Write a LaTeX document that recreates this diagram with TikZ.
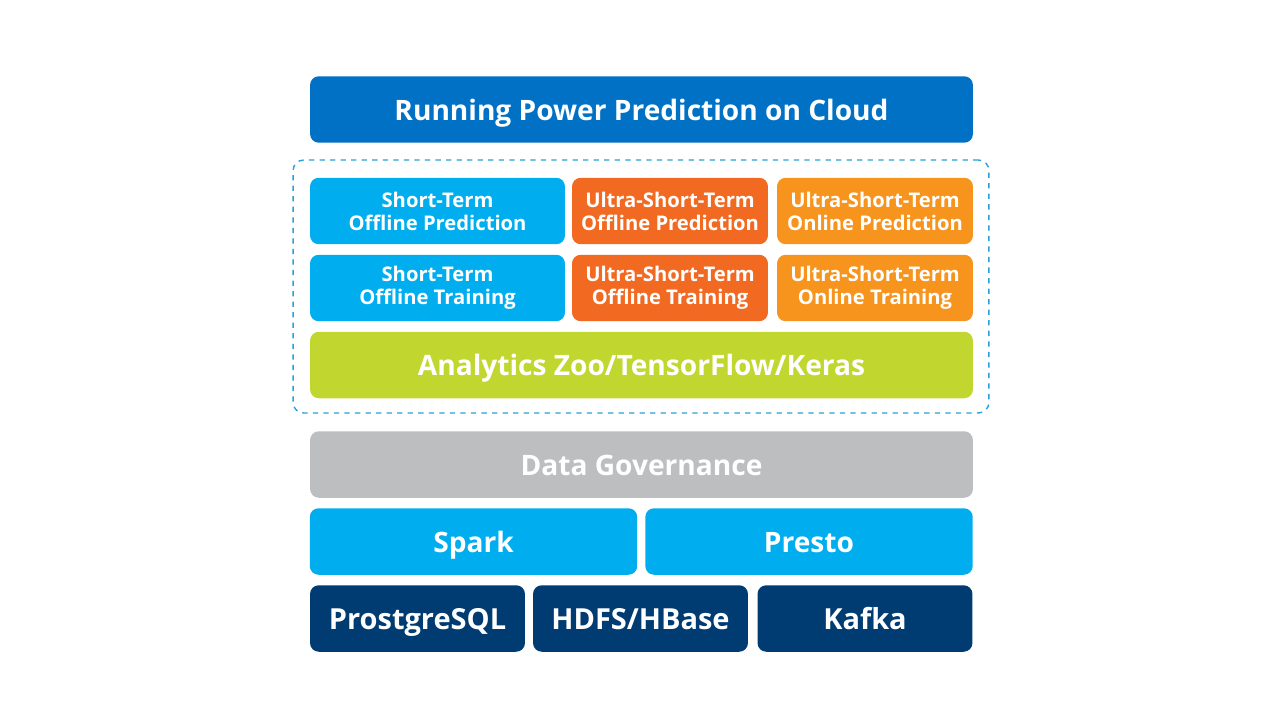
\documentclass[tikz,border=0pt]{standalone}
\usepackage{fontspec}
\setmainfont{Open Sans}
\begin{document}
\begin{tikzpicture}[x=0.02cm,y=-0.02cm]
    % Colours
    \definecolor{intel blue}{HTML}{0071C5}
    \definecolor{light blue}{HTML}{00AEEF}
    \definecolor{dark orange}{HTML}{F26A22}
    \definecolor{light orange}{HTML}{F7941E}
    \definecolor{lime}{HTML}{C1D72F}
    \definecolor{light gray}{HTML}{BCBEC0}
    \definecolor{navy}{HTML}{003C71}
    \definecolor{frame blue}{HTML}{2A9FD8}
    % Node styles
    \tikzstyle{box}=[shape=rectangle, rounded corners=5pt, inner sep=0mm, text=white, align=center, minimum height=1.33cm]
    \tikzstyle{big text}=[font=\fontsize{16}{19}\selectfont\bfseries, text height=15.5pt, text depth=3pt]
    \tikzstyle{small text}=[font=\fontsize{11.5}{13}\selectfont\bfseries]
    \tikzstyle{wide box}=[style=box, style=big text, minimum width=13.26cm]
    \tikzstyle{half box}=[style=box, style=big text, minimum width=6.55cm]
    \tikzstyle{third box}=[style=box, style=big text, minimum width=4.3cm, font=\fontsize{16.5}{19}\selectfont\bfseries]
    \tikzstyle{model box}=[style=box, style=small text, minimum width=3.92cm]
    \tikzstyle{dashed frame}=[shape=rectangle, draw=frame blue, dashed, line width=0.8pt, rounded corners=6pt, inner sep=0mm, minimum width=13.92cm, minimum height=5.06cm]

    \useasboundingbox (0, 0) rectangle (1280, 720);

    \node [style=dashed frame] (0) at (641, 286.5) {};
    \node [style=wide box, fill=intel blue] (1) at (641.5, 109.5) {Running Power Prediction on Cloud};
    \node [style=model box, fill=light blue, minimum width=5.1cm] (2) at (437.5, 211) {Short-Term\\Offline Prediction};
    \node [style=model box, fill=dark orange] (3) at (670, 211) {Ultra-Short-Term\\Offline Prediction};
    \node [style=model box, fill=light orange] (4) at (875, 211) {Ultra-Short-Term\\Online Prediction};
    \node [style=model box, fill=light blue, minimum width=5.1cm] (5) at (437.5, 288) {Short-Term\\Offline Training};
    \node [style=model box, fill=dark orange] (6) at (670, 288) {Ultra-Short-Term\\Offline Training};
    \node [style=model box, fill=light orange] (7) at (875, 288) {Ultra-Short-Term\\Online Training};
    \node [style=wide box, fill=lime] (8) at (641.5, 365) {Analytics Zoo/TensorFlow/Keras};
    \node [style=wide box, fill=light gray] (9) at (641.5, 464.5) {Data Governance};
    \node [style=half box, fill=light blue] (10) at (473.5, 541.5) {Spark};
    \node [style=half box, fill=light blue] (11) at (809, 541.5) {Presto};
    \node [style=third box, fill=navy] (12) at (417.5, 618.5) {ProstgreSQL};
    \node [style=third box, fill=navy] (13) at (640.5, 618.5) {HDFS/HBase};
    \node [style=third box, fill=navy] (14) at (865, 618.5) {Kafka};
\end{tikzpicture}
\end{document}
